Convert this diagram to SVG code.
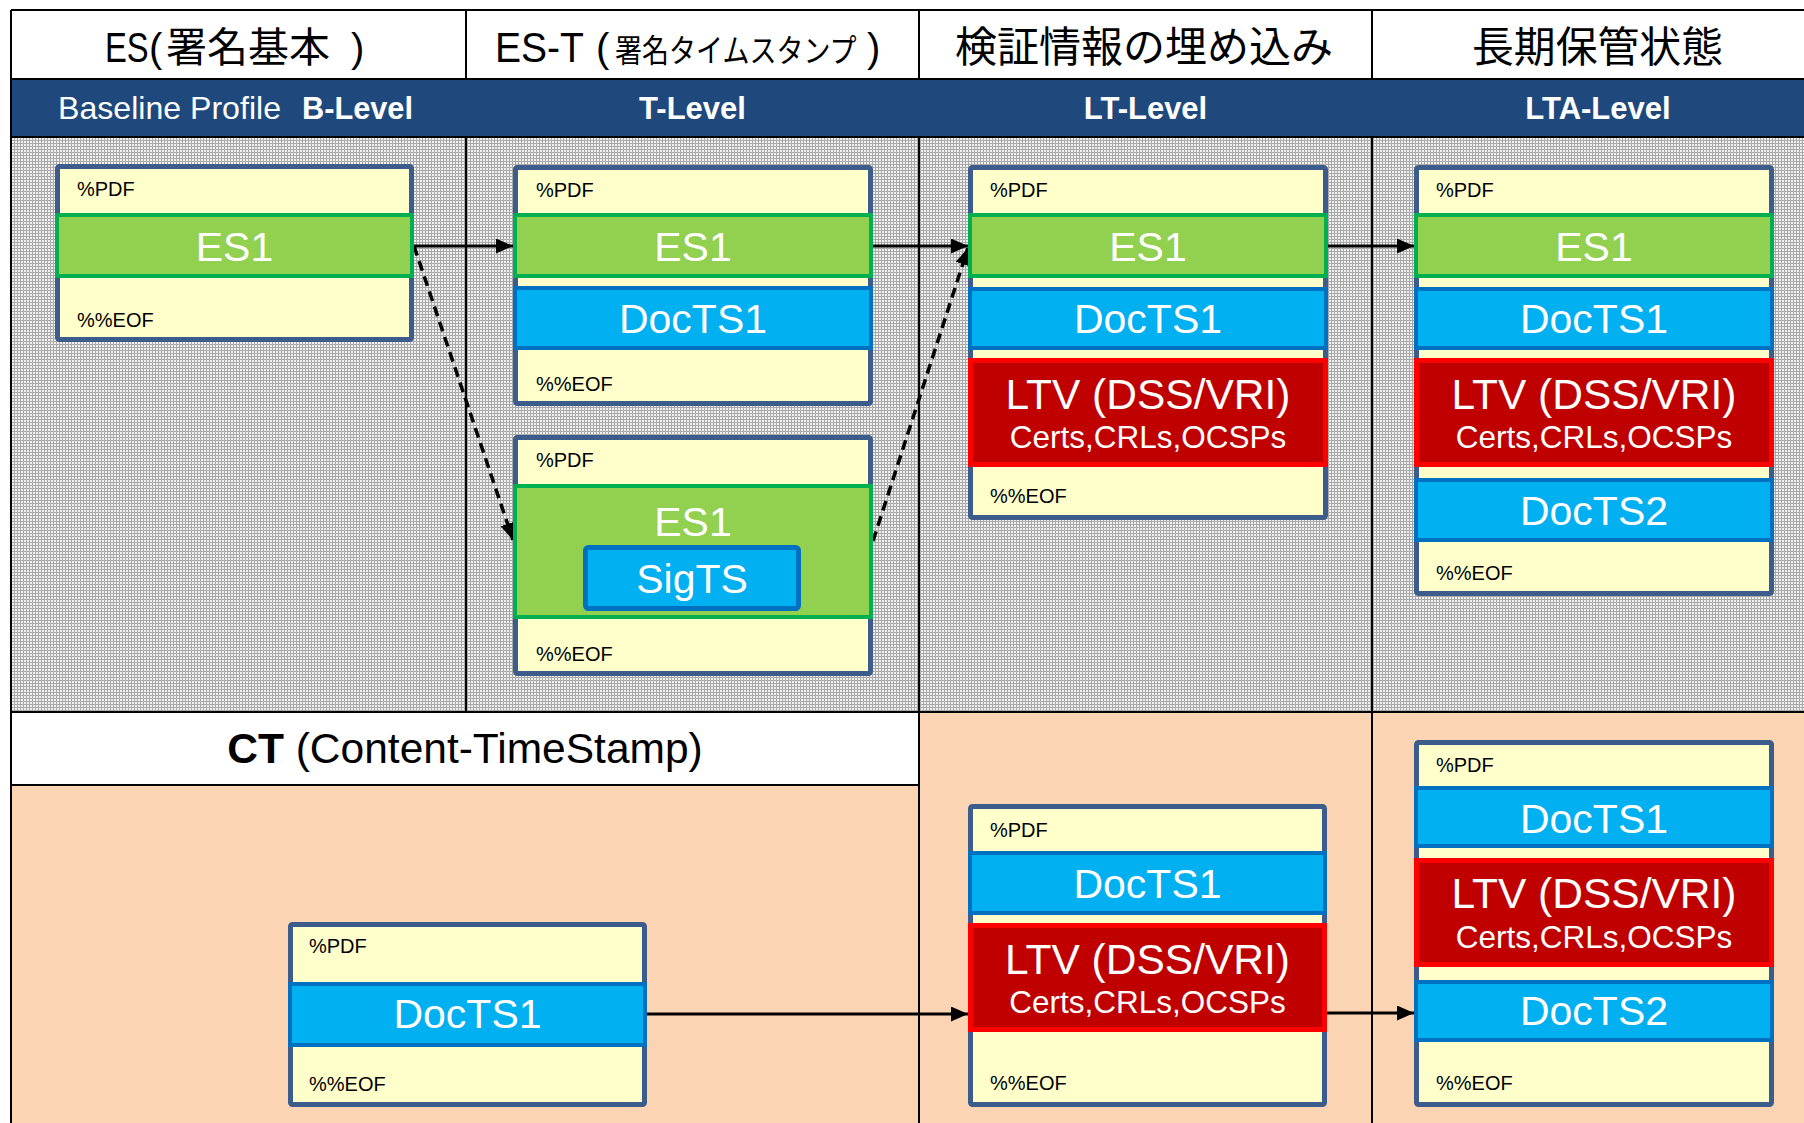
<svg xmlns="http://www.w3.org/2000/svg" width="1804" height="1123" viewBox="0 0 1804 1123">
<style>
.hdr{font-family:"Liberation Sans","Noto Sans CJK JP",sans-serif;font-size:42px;fill:#000}
.jp{font-family:"Noto Sans CJK JP",sans-serif}
.lvl{font-family:"Liberation Sans",Arial,sans-serif;font-size:31px;fill:#fff;font-weight:bold;text-anchor:middle}
.box{fill:#FFFFCC;stroke:#3C5D8C;stroke-width:5}
.es{fill:#92D050;stroke:#00B050;stroke-width:4}
.ts{fill:#00B0F0;stroke:#0070C0;stroke-width:4}
.ltv{fill:#C00000;stroke:#FF0000;stroke-width:5}
.sm{font-family:"Liberation Sans",Arial,sans-serif;font-size:20px;fill:#000}
.big{font-family:"Liberation Sans",Arial,sans-serif;font-size:41px;fill:#fff;text-anchor:middle}
.ltvt{font-size:42.5px}
.sub{font-family:"Liberation Sans",Arial,sans-serif;font-size:31.5px;fill:#fff;text-anchor:middle}
.line{stroke:#000;stroke-width:2;fill:none}
.conn{stroke:#000;stroke-width:3;fill:none}
.dash{stroke-width:3.5;stroke-dasharray:10 6}
</style>
<defs>
<pattern id="grid" width="3" height="3" patternUnits="userSpaceOnUse">
<rect width="3" height="3" fill="#a9a9a9"/>
<rect width="2" height="2" fill="#f0f0f0"/>
</pattern>
<marker id="arr" markerUnits="userSpaceOnUse" markerWidth="17" markerHeight="15" refX="17" refY="7.5" orient="auto">
<path d="M0,0 L17,7.5 L0,15 z" fill="#000"/>
</marker>
</defs>

<g id="background">
<rect x="0" y="0" width="1804" height="1123" fill="#fff"/>
<rect x="11" y="10" width="1793" height="69" fill="#fff"/>
<rect x="11" y="79" width="1793" height="58" fill="#1F497D"/>
<rect x="11" y="137" width="1793" height="575" fill="url(#grid)"/>
<rect x="11" y="712" width="908" height="73" fill="#fff"/>
<rect x="11" y="785" width="908" height="338" fill="#FBD4B4"/>
<rect x="919" y="712" width="885" height="411" fill="#FBD4B4"/>
<path class="line" d="M11,10 H1804 M11,79 H1804 M11,137 H1804 M11,712 H1804 M11,785 H919 M11,10 V1123 M466,10 V79 M466,137 V712 M919,10 V79 M919,137 V1123 M1372,10 V79 M1372,137 V1123"/>
</g>

<g id="headers">
<text class="hdr" transform="translate(105,62) scale(0.78,1)" x="0" y="0">ES</text>
<text class="hdr" x="149" y="62" style="font-size:40px">(</text>
<text class="hdr jp" x="166" y="62" style="font-size:41px">署名基本</text>
<text class="hdr" x="351" y="62" style="font-size:40px">)</text>
<text class="hdr" transform="translate(495,62) scale(0.93,1)" x="0" y="0">ES-T</text>
<text class="hdr" x="596" y="62" style="font-size:40px">(</text>
<text class="hdr jp" transform="translate(615,62) scale(0.844,1)" x="0" y="0" style="font-size:32px">署名タイムスタンプ</text>
<text class="hdr" x="867" y="62" style="font-size:40px">)</text>
<text class="hdr jp" x="955" y="62" textLength="378" lengthAdjust="spacingAndGlyphs">検証情報の埋め込み</text>
<text class="hdr jp" x="1472" y="62" textLength="251" lengthAdjust="spacingAndGlyphs">長期保管状態</text>
<text class="lvl" y="119" style="text-anchor:start"><tspan x="58" font-weight="normal" font-size="32" textLength="223" lengthAdjust="spacingAndGlyphs">Baseline Profile</tspan><tspan x="302" textLength="111" lengthAdjust="spacingAndGlyphs">B-Level</tspan></text>
<text class="lvl" x="692.5" y="119">T-Level</text>
<text class="lvl" x="1145.5" y="119">LT-Level</text>
<text class="lvl" x="1598" y="119">LTA-Level</text>
<text class="hdr" x="465" y="763" text-anchor="middle" style="font-size:42.5px"><tspan font-weight="bold">CT</tspan> (Content-TimeStamp)</text>
</g>

<g id="connectors">
<path class="conn" d="M414,246 L513,246" marker-end="url(#arr)"/>
<path class="conn dash" d="M414,246 L513,540" marker-end="url(#arr)"/>
<path class="conn" d="M873,246 L968,246" marker-end="url(#arr)"/>
<path class="conn dash" d="M873,541 L968,248" marker-end="url(#arr)"/>
<path class="conn" d="M1328,246 L1414,246" marker-end="url(#arr)"/>
<path class="conn" d="M647,1014 L968,1014" marker-end="url(#arr)"/>
<path class="conn" d="M1327,1013 L1414,1013" marker-end="url(#arr)"/>
</g>

<g id="node-b-level">
<rect class="box" x="57.5" y="166.5" width="354" height="173" rx="2"/>
<text class="sm" x="77" y="196">%PDF</text>
<rect class="es" x="57" y="215" width="355" height="61"/>
<text class="big" x="234.5" y="261">ES1</text>
<text class="sm" x="77" y="327">%%EOF</text>
</g>

<g id="node-t-level-doc">
<rect class="box" x="515.5" y="167.5" width="355" height="236" rx="2"/>
<text class="sm" x="536" y="197">%PDF</text>
<rect class="es" x="515" y="215" width="356" height="61"/>
<text class="big" x="693" y="261">ES1</text>
<rect class="ts" x="515" y="288" width="356" height="60"/>
<text class="big" x="693" y="333">DocTS1</text>
<text class="sm" x="536" y="391">%%EOF</text>
</g>

<g id="node-t-level-sig">
<rect class="box" x="515.5" y="437.5" width="355" height="236" rx="2"/>
<text class="sm" x="536" y="467">%PDF</text>
<rect class="es" x="515" y="486" width="356" height="131"/>
<text class="big" x="693" y="536">ES1</text>
<rect class="ts" x="585.5" y="547.5" width="213" height="61" rx="3" style="stroke-width:5"/>
<text class="big" x="692" y="593">SigTS</text>
<text class="sm" x="536" y="661">%%EOF</text>
</g>

<g id="node-lt-level">
<rect class="box" x="970.5" y="167.5" width="355" height="350" rx="2"/>
<text class="sm" x="990" y="197">%PDF</text>
<rect class="es" x="970" y="215" width="356" height="61"/>
<text class="big" x="1148" y="261">ES1</text>
<rect class="ts" x="970" y="289" width="356" height="59"/>
<text class="big" x="1148" y="333">DocTS1</text>
<rect class="ltv" x="970.5" y="360.5" width="355" height="104"/>
<text class="big ltvt" x="1148" y="409">LTV (DSS/VRI)</text>
<text class="sub" x="1148" y="448">Certs,CRLs,OCSPs</text>
<text class="sm" x="990" y="503">%%EOF</text>
</g>

<g id="node-lta-level">
<rect class="box" x="1416.5" y="167.5" width="355" height="426" rx="2"/>
<text class="sm" x="1436" y="197">%PDF</text>
<rect class="es" x="1416" y="215" width="356" height="61"/>
<text class="big" x="1594" y="261">ES1</text>
<rect class="ts" x="1416" y="289" width="356" height="59"/>
<text class="big" x="1594" y="333">DocTS1</text>
<rect class="ltv" x="1416.5" y="360.5" width="355" height="104"/>
<text class="big ltvt" x="1594" y="409">LTV (DSS/VRI)</text>
<text class="sub" x="1594" y="448">Certs,CRLs,OCSPs</text>
<rect class="ts" x="1416" y="480" width="356" height="60"/>
<text class="big" x="1594" y="525">DocTS2</text>
<text class="sm" x="1436" y="580">%%EOF</text>
</g>

<g id="node-ct">
<rect class="box" x="290.5" y="924.5" width="354" height="180" rx="2"/>
<text class="sm" x="309" y="953">%PDF</text>
<rect class="ts" x="290" y="984" width="355" height="61"/>
<text class="big" x="467.5" y="1028">DocTS1</text>
<text class="sm" x="309" y="1091">%%EOF</text>
</g>

<g id="node-ct-lt">
<rect class="box" x="970.5" y="806.5" width="354" height="298" rx="2"/>
<text class="sm" x="990" y="837">%PDF</text>
<rect class="ts" x="970" y="853" width="355" height="60"/>
<text class="big" x="1147.5" y="898">DocTS1</text>
<rect class="ltv" x="970.5" y="925.5" width="354" height="104"/>
<text class="big ltvt" x="1147.5" y="974">LTV (DSS/VRI)</text>
<text class="sub" x="1147.5" y="1013">Certs,CRLs,OCSPs</text>
<text class="sm" x="990" y="1090">%%EOF</text>
</g>

<g id="node-ct-lta">
<rect class="box" x="1416.5" y="742.5" width="355" height="362" rx="2"/>
<text class="sm" x="1436" y="772">%PDF</text>
<rect class="ts" x="1416" y="788" width="356" height="58"/>
<text class="big" x="1594" y="833">DocTS1</text>
<rect class="ltv" x="1416.5" y="860.5" width="355" height="104"/>
<text class="big ltvt" x="1594" y="908">LTV (DSS/VRI)</text>
<text class="sub" x="1594" y="948">Certs,CRLs,OCSPs</text>
<rect class="ts" x="1416" y="982" width="356" height="58"/>
<text class="big" x="1594" y="1025">DocTS2</text>
<text class="sm" x="1436" y="1090">%%EOF</text>
</g>
</svg>
